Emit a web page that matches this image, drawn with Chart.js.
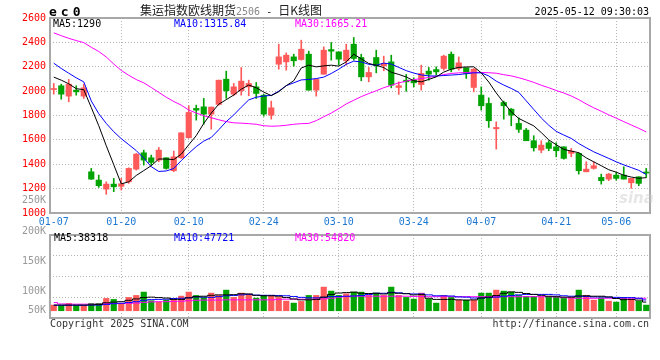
<!DOCTYPE html>
<html>
<head>
<meta charset="utf-8">
<script src="https://cdn.jsdelivr.net/npm/chart.js@4.4.1/dist/chart.umd.min.js"></script>
<style>
  body { margin: 0; background: #fff; }
  #wrap { position: relative; width: 660px; height: 360px; overflow: hidden; }
  canvas { position: absolute; left: 0; }
  .t { position: absolute; font-family: 'DejaVu Sans Mono', monospace; font-size: 10px; line-height: 12px; white-space: nowrap; }
  .cjk { font-family: 'Noto Sans CJK SC', sans-serif; font-size: 12px; }
  .gray { color: #999; }
</style>
</head>
<body>
<div id="wrap">
  <canvas id="kline" width="660" height="232" style="top:0"></canvas>
  <canvas id="vol" width="660" height="100" style="top:226px"></canvas>

  <div class="t" style="left:49px;top:5px;font-weight:bold;font-size:13px;line-height:14px;letter-spacing:4px">ec0</div>
  <div class="t" style="left:140px;top:3px;line-height:14px;color:#222"><span class="cjk">集运指数欧线期货</span><span style="color:#888;font-size:10px">2506</span><span style="font-size:10px"> - </span><span class="cjk">日K线图</span></div>
  <div class="t" style="right:11px;top:6px;color:#000">2025-05-12 09:30:03</div>

  <div class="t" style="left:53px;top:18px;color:#000">MA5:1290</div>
  <div class="t" style="left:174px;top:18px;color:#0000ff">MA10:1315.84</div>
  <div class="t" style="left:295px;top:18px;color:#ff00ff">MA30:1665.21</div>

  <div class="t gray" style="right:614px;top:194px">250K</div>
  <div class="t gray" style="right:614px;top:225px">200K</div>
  <div class="t gray" style="right:614px;top:255px">150K</div>
  <div class="t gray" style="right:614px;top:285px">100K</div>
  <div class="t gray" style="right:614px;top:304px">50K</div>

  <div class="t" style="left:54px;top:232px;color:#000">MA5:38318</div>
  <div class="t" style="left:174px;top:232px;color:#0000ff">MA10:47721</div>
  <div class="t" style="left:295px;top:232px;color:#ff00ff">MA30:54820</div>

  <div class="t" style="left:619px;top:190px;font-family:'DejaVu Sans',sans-serif;font-size:15px;line-height:16px;font-weight:bold;font-style:italic;color:rgba(200,200,200,0.45)">sina</div>

  <div class="t" style="left:50px;top:318px;color:#333">Copyright 2025 SINA.COM</div>
  <div class="t" style="right:11px;top:318px;color:#333">http://finance.sina.com.cn</div>
</div>

<script>
// trading days shown
const days = ['01-07','01-08','01-09','01-10','01-13','01-14','01-15','01-16','01-17','01-20',
  '01-21','01-22','01-23','01-24','01-27','02-05','02-06','02-07','02-10','02-11',
  '02-12','02-13','02-14','02-17','02-18','02-19','02-20','02-21','02-24','02-25',
  '02-26','02-27','02-28','03-03','03-04','03-05','03-06','03-07','03-10','03-11',
  '03-12','03-13','03-14','03-17','03-18','03-19','03-20','03-21','03-24','03-25',
  '03-26','03-27','03-28','03-31','04-01','04-02','04-03','04-07','04-08','04-09',
  '04-10','04-11','04-14','04-15','04-16','04-17','04-18','04-21','04-22','04-23',
  '04-24','04-25','04-28','04-29','04-30','05-06','05-07','05-08','05-09','05-12'];
const tickDays = ['01-07','01-20','02-10','02-24','03-10','03-24','04-07','04-21','05-06'];
const priceTicks = [1000, 1200, 1400, 1600, 1800, 2000, 2200, 2400, 2600];

const open = [2013,2044,1959,2008,1959,1338,1270,1196,1237,1219,
  1256,1360,1494,1453,1434,1453,1347,1453,1617,1858,
  1871,1811,1891,2098,1975,2003,2035,2035,1967,1803,
  2221,2240,2281,2259,2303,2008,2139,2341,2322,2249,
  2385,2276,2117,2276,2208,2240,2030,2090,2090,2054,
  2164,2177,2186,2303,2186,2191,2030,1967,1899,1691,
  1907,1852,1735,1680,1593,1516,1576,1543,1543,1489,
  1489,1338,1366,1292,1278,1311,1311,1248,1297,1333];
const high = [2063,2057,2096,2044,2057,1366,1311,1256,1284,1284,
  1371,1489,1516,1475,1538,1453,1508,1658,1880,1885,
  1940,1869,2090,2164,2063,2194,2090,2071,1973,1918,
  2385,2314,2303,2418,2328,2096,2363,2399,2322,2385,
  2440,2303,2194,2336,2287,2295,2076,2137,2109,2213,
  2194,2199,2295,2322,2281,2191,2186,2035,1945,1748,
  1918,1858,1781,1694,1634,1593,1593,1576,1543,1530,
  1494,1420,1420,1319,1325,1333,1379,1284,1297,1366];
const low = [1975,1934,1912,1967,1940,1275,1210,1153,1175,1188,
  1243,1352,1393,1393,1420,1360,1339,1448,1617,1762,
  1729,1688,1885,1940,1962,1967,1962,1940,1795,1770,
  2180,2172,2205,2254,2008,1959,2139,2254,2213,2213,
  2254,2085,2076,2150,2167,2027,1973,1999,2035,2008,
  2090,2131,2172,2158,2172,2104,1994,1844,1702,1524,
  1770,1716,1661,1593,1508,1494,1511,1461,1442,1461,
  1319,1338,1360,1237,1265,1270,1278,1202,1224,1292];
const close = [2018,1975,2057,1994,2027,1278,1224,1237,1215,1240,
  1366,1483,1434,1415,1516,1366,1461,1658,1825,1844,
  1811,1869,2090,2003,2035,2082,2063,1981,1811,1863,
  2281,2295,2249,2344,2008,2096,2336,2328,2262,2336,
  2268,2117,2153,2208,2227,2049,2044,2076,2068,2145,
  2139,2158,2287,2180,2232,2145,2180,1880,1757,1702,
  1880,1803,1686,1593,1535,1557,1530,1511,1448,1508,
  1347,1360,1388,1265,1319,1284,1278,1284,1243,1328];

// moving average lines
const ma5 = [2115,2090,2060,2020,2012,1866,1716,1552,1396,1239,
  1256,1308,1348,1388,1443,1443,1438,1483,1560,1635,
  1735,1820,1893,1930,1968,2016,2050,2028,1992,1963,
  1995,2045,2085,2190,2213,2199,2207,2213,2205,2240,
  2303,2265,2227,2212,2193,2155,2137,2116,2085,2076,
  2096,2117,2156,2180,2195,2198,2200,2150,2075,1985,
  1905,1830,1776,1745,1715,1660,1600,1560,1522,1508,
  1495,1452,1420,1388,1355,1335,1310,1295,1285,1290];
const ma10 = [2229,2186,2147,2109,2076,1920,1815,1735,1667,1610,
  1561,1512,1450,1380,1341,1345,1365,1430,1490,1545,
  1590,1620,1683,1750,1805,1868,1928,1950,1960,1965,
  2000,2045,2068,2092,2096,2103,2115,2145,2180,2220,
  2246,2240,2220,2212,2230,2222,2195,2168,2148,2133,
  2125,2124,2128,2132,2136,2143,2150,2150,2125,2082,
  2050,2022,1990,1920,1850,1780,1720,1670,1640,1612,
  1570,1535,1502,1475,1448,1420,1395,1373,1350,1316];
const ma30 = [2478,2455,2433,2415,2398,2360,2325,2280,2222,2170,
  2130,2095,2068,2030,1990,1950,1915,1885,1845,1820,
  1798,1782,1765,1750,1740,1737,1733,1728,1716,1712,
  1714,1720,1728,1733,1735,1758,1790,1820,1856,1895,
  1925,1955,1980,2003,2028,2048,2068,2082,2094,2103,
  2112,2122,2136,2145,2150,2153,2154,2153,2151,2147,
  2135,2125,2110,2092,2072,2048,2028,2005,1985,1960,
  1930,1895,1863,1835,1805,1778,1750,1722,1695,1665];

// volume and its averages
const vol = [24900,22000,32300,22000,22000,32300,32300,54300,49900,32300,
  58700,67500,82200,44000,38100,46900,49900,64500,82200,67500,
  58700,77800,67500,91000,58700,77800,73400,55700,67500,67500,
  58700,42500,33700,41100,67500,67500,104200,86600,67500,74800,
  82200,82200,67500,77800,67500,104200,67500,58700,51300,77800,
  51300,33700,67500,58700,46900,46900,46900,77800,77800,91000,
  86600,82200,67500,63100,63100,63100,63100,58700,54300,58700,
  91000,67500,46900,57200,42500,38100,58700,51300,42500,24900];
const vma5 = [25000,25000,25000,25000,25000,26000,28000,35000,38000,40000,
  46000,52000,58000,60000,58000,56000,50000,50000,57000,62000,
  64000,68000,70000,70000,71000,75000,74000,68000,66000,66000,
  64000,58000,52000,48000,48000,50000,60000,72000,78000,80000,
  82000,77000,76000,77000,74000,79000,77000,75000,70000,71000,
  55000,50000,50000,50000,48000,47000,48000,56000,60000,67000,
  77000,83000,81000,76000,72000,68000,64000,62000,60000,60000,
  65000,66000,64000,64000,61000,54000,49000,50000,47000,38318];
const vma10 = [24000,24000,24000,24000,24000,25000,25000,28000,31000,33000,
  36000,40000,46000,49000,50000,51000,54000,55000,57000,61000,
  60000,59000,62000,66000,67000,70000,72000,69000,68000,68000,
  67000,66000,63000,59000,57000,57000,59000,63000,63000,64000,
  65000,67000,72000,77000,77000,81000,79000,76000,74000,74000,
  70000,66000,66000,65000,61000,60000,56000,56000,58000,60000,
  64000,67000,70000,72000,72000,72000,72000,70000,66000,64000,
  64000,63000,61000,61000,60000,59000,58000,58000,55000,47721];
const vma30 = [36000,30000,29000,29000,29000,29000,29000,31000,32000,32000,
  33000,34000,37000,39000,40000,40000,41000,42000,44000,46000,
  47000,47000,47000,48000,48000,48000,48000,48000,48000,48000,
  50000,51000,51000,51000,51000,51000,52000,55000,60000,63000,
  64000,64000,64000,64000,64000,64000,64000,64000,63000,63000,
  62000,62000,62000,62000,62000,62000,62000,62000,62000,62000,
  62000,62000,62000,62000,62000,62000,62000,61000,58000,56000,
  55000,55000,55000,55000,55000,55000,55000,55000,55000,54820];

const RED = '#ff5a5a';
const GREEN = '#00a300';
const GRID = '#b4b4b4';
const colors = open.map((o, i) => close[i] >= o ? RED : GREEN);
const mono = { family: 'DejaVu Sans Mono', size: 10 };

// gray box round the plot area
const framePlugin = {
  id: 'frame',
  beforeDatasetsDraw(chart) {
    const a = chart.chartArea;
    const ctx = chart.ctx;
    ctx.save();
    ctx.strokeStyle = '#a8a8a8';
    ctx.lineWidth = 2;
    ctx.strokeRect(a.left, a.top, a.right - a.left, a.bottom - a.top);
    ctx.restore();
  }
};

function dateGridColor(ctx) {
  const d = days[ctx.index];
  return (ctx.index > 0 && tickDays.includes(d)) ? GRID : 'rgba(0,0,0,0)';
}

function maLine(data, color, stepped) {
  return {
    type: 'line', data: data, borderColor: color, borderWidth: 1,
    pointRadius: 0, tension: 0, stepped: stepped || false, order: 0
  };
}

new Chart(document.getElementById('kline'), {
  type: 'bar',
  data: {
    labels: days,
    datasets: [
      maLine(ma5, '#000000'),
      maLine(ma10, '#0000ff'),
      maLine(ma30, '#ff00ff'),
      {
        data: open.map((o, i) => [o, close[i]]),
        backgroundColor: colors, barThickness: 5.5, minBarLength: 1,
        grouped: false, order: 1
      },
      {
        data: low.map((l, i) => [l, high[i]]),
        backgroundColor: colors, barThickness: 1,
        grouped: false, order: 2
      }
    ]
  },
  options: {
    responsive: false,
    animation: false,
    devicePixelRatio: 1,
    layout: { padding: { top: 18, right: 10, left: 0, bottom: 0 } },
    plugins: { legend: { display: false }, tooltip: { enabled: false } },
    scales: {
      x: {
        offset: true,
        grid: { offset: false, drawTicks: false, color: dateGridColor },
        border: { display: false, dash: [1, 2] },
        ticks: {
          autoSkip: false, maxRotation: 0, minRotation: 0, padding: 3,
          color: '#1e78d2', font: mono,
          callback: (v, i) => tickDays.includes(days[i]) ? days[i] : ''
        },
        afterFit: s => { s.height = 19; }
      },
      y: {
        min: 1000, max: 2600,
        afterBuildTicks: s => { s.ticks = priceTicks.map(v => ({ value: v })); },
        ticks: {
          autoSkip: false, color: '#ff0000', padding: 4, font: mono,
          callback: v => String(v)
        },
        grid: { drawTicks: false, color: GRID },
        border: { display: false, dash: [1, 2] },
        afterFit: s => { s.width = 50; }
      }
    }
  },
  plugins: [framePlugin]
});

const volMin = -32000, volMax = 334000;

new Chart(document.getElementById('vol'), {
  type: 'bar',
  data: {
    labels: days,
    datasets: [
      maLine(vma5, '#000000', 'middle'),
      maLine(vma10, '#0000ff', 'middle'),
      maLine(vma30, '#ff00ff', 'middle'),
      { data: vol, backgroundColor: colors, barThickness: 5.5, grouped: false, order: 1 }
    ]
  },
  options: {
    responsive: false,
    animation: false,
    devicePixelRatio: 1,
    layout: { padding: { top: 9, right: 10, left: 0, bottom: 8 } },
    plugins: { legend: { display: false }, tooltip: { enabled: false } },
    scales: {
      x: {
        offset: true,
        ticks: { display: false },
        grid: { offset: false, drawTicks: false, color: dateGridColor },
        border: { display: false, dash: [1, 2] },
        afterFit: s => { s.height = 0; }
      },
      y: {
        min: volMin, max: volMax,
        ticks: { display: false },
        grid: { drawTicks: false, color: GRID },
        border: { display: false, dash: [1, 2] },
        afterBuildTicks: s => {
          const q = (volMax - volMin) / 4;
          s.ticks = [1, 2, 3].map(n => ({ value: volMin + q * n }));
        },
        afterFit: s => { s.width = 50; }
      }
    }
  },
  plugins: [framePlugin]
});
</script>
</body>
</html>
